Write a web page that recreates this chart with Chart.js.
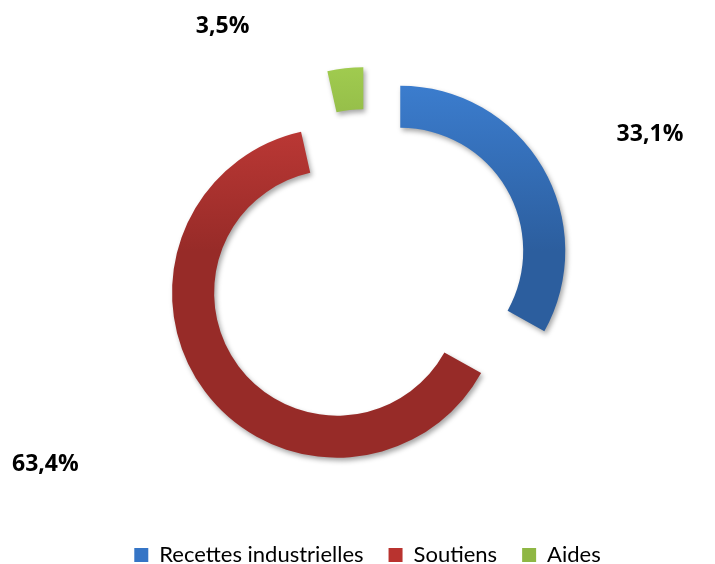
<!DOCTYPE html>
<html>
<head>
<meta charset="utf-8">
<script src="https://cdn.jsdelivr.net/npm/chart.js@4/dist/chart.umd.min.js"></script>
<style>
  html, body { margin: 0; padding: 0; background: #fff; }
  #wrap { width: 715px; height: 564px; position: relative; }
</style>
</head>
<body>
<div id="wrap"><canvas id="pie"></canvas></div>
<script>
const categories = ["Recettes industrielles", "Soutiens", "Aides"];
const shares = [33.1, 63.4, 3.5];
const shareLabels = ["33,1%", "63,4%", "3,5%"];

// light / dark shade for each slice
const lightColors = ["#3d80d3", "#cd3e3b", "#a0cb4f"];
const darkColors = ["#2c5e9e", "#972b28", "#78993a"];
const flatColors = ["#3575c6", "#b9332f", "#8fb744"];

const RADIUS = 165;
const EXPLODE = 38;
const LEGEND_DROP = 12;
// where each percentage sits: angle (deg, clockwise from top) and distance in radii
const labelPolar = [[64.3, 1.90], [238.9, 2.28], [329.3, 1.72]];

function sliceFill(c) {
  const chart = c.chart;
  const i = c.dataIndex;
  const area = chart.chartArea;
  if (!area || i === undefined) return flatColors[i] || "#999";
  const cy = (area.top + area.bottom) / 2;
  const g = chart.ctx.createLinearGradient(0, cy - RADIUS - EXPLODE, 0, cy + RADIUS);
  g.addColorStop(0, lightColors[i]);
  g.addColorStop(0.5, darkColors[i]);
  g.addColorStop(1, darkColors[i]);
  return g;
}

// push every slice out along its middle angle
const explode = {
  id: "explode",
  afterDatasetUpdate(chart, args) {
    args.meta.data.forEach(arc => {
      const mid = (arc.startAngle + arc.endAngle) / 2;
      arc.x += Math.cos(mid) * EXPLODE;
      arc.y += Math.sin(mid) * EXPLODE;
    });
  }
};

// legend sits lower, close to the bottom edge
const dropLegend = {
  id: "dropLegend",
  afterLayout(chart) {
    const lg = chart.legend;
    if (!lg) return;
    lg.top += LEGEND_DROP;
    lg.bottom += LEGEND_DROP;
  }
};

const shadow = {
  id: "shadow",
  beforeDatasetsDraw(chart) {
    const ctx = chart.ctx;
    ctx.save();
    ctx.shadowColor = "rgba(0,0,0,0.35)";
    ctx.shadowBlur = 5;
    ctx.shadowOffsetX = 2;
    ctx.shadowOffsetY = 3;
  },
  afterDatasetsDraw(chart) {
    chart.ctx.restore();
  }
};

const valueLabels = {
  id: "valueLabels",
  afterDraw(chart) {
    const ctx = chart.ctx;
    const area = chart.chartArea;
    const cx = (area.left + area.right) / 2;
    const cy = (area.top + area.bottom) / 2;
    ctx.save();
    ctx.font = "bold 23px 'Open Sans'";
    ctx.fillStyle = "#000";
    ctx.textAlign = "center";
    ctx.textBaseline = "middle";
    shareLabels.forEach((txt, i) => {
      const a = labelPolar[i][0] * Math.PI / 180;
      const d = labelPolar[i][1] * RADIUS;
      ctx.fillText(txt, cx + Math.sin(a) * d, cy - Math.cos(a) * d);
    });
    ctx.restore();
  }
};

new Chart(document.getElementById("pie"), {
  type: "doughnut",
  data: {
    labels: categories,
    datasets: [{
      data: shares,
      backgroundColor: sliceFill,
      borderWidth: 0
    }]
  },
  options: {
    responsive: true,
    maintainAspectRatio: false,
    animation: false,
    radius: RADIUS,
    cutout: "74.5%",
    layout: { padding: { top: 33, left: 20, right: 0, bottom: 0 } },
    plugins: {
      tooltip: { enabled: false },
      legend: {
        position: "bottom",
        labels: {
          boxWidth: 14,
          boxHeight: 14,
          padding: 25,
          color: "#1a1a1a",
          font: { family: "Lato", size: 22 },
          generateLabels(chart) {
            return categories.map((name, i) => ({
              text: name,
              fillStyle: flatColors[i],
              strokeStyle: flatColors[i],
              lineWidth: 0,
              hidden: false,
              index: i
            }));
          }
        }
      }
    }
  },
  plugins: [explode, dropLegend, shadow, valueLabels]
});
</script>
</body>
</html>
